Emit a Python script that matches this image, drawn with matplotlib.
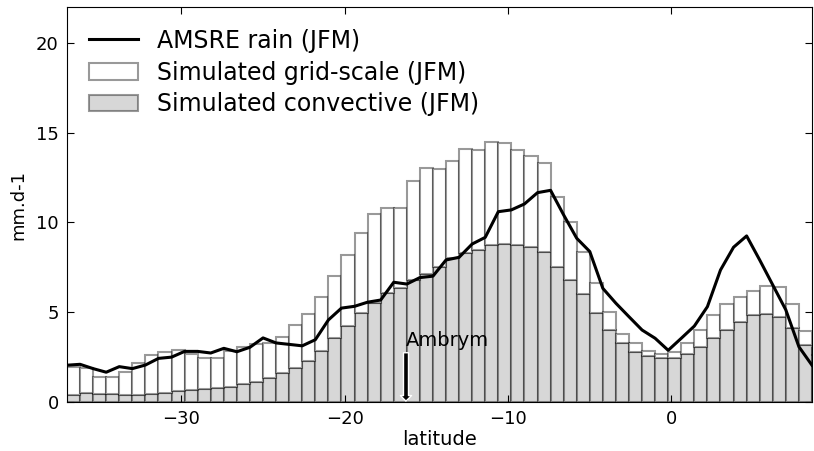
import matplotlib
matplotlib.use("Agg")
import matplotlib.pyplot as plt
import numpy as np

# latitude of each model band (left edge) and of the AMSRE samples
lat = np.round(-37.0 + 0.8 * np.arange(58), 2)

# simulated convective rain, mm/day
conv = [0.39, 0.52, 0.43, 0.43, 0.39, 0.39, 0.45, 0.52, 0.61, 0.67,
        0.72, 0.80, 0.85, 1.00, 1.13, 1.32, 1.60, 1.88, 2.28, 2.84,
        3.55, 4.23, 4.98, 5.50, 6.05, 6.33, 6.80, 7.13, 7.54, 8.00,
        8.28, 8.47, 8.75, 8.80, 8.75, 8.62, 8.34, 7.54, 6.80, 6.00,
        4.98, 4.01, 3.27, 2.80, 2.56, 2.43, 2.47, 2.66, 3.08, 3.58,
        4.01, 4.47, 4.85, 4.90, 4.72, 4.10, 3.18, 2.60]

# simulated total (convective + grid-scale) rain, mm/day
total = [1.97, 1.88, 1.37, 1.37, 1.65, 2.20, 2.60, 2.81, 2.88, 2.66,
         2.44, 2.44, 2.85, 3.08, 3.21, 3.30, 3.60, 4.29, 4.89, 5.83,
         7.04, 8.21, 9.39, 10.47, 10.81, 10.81, 12.31, 13.04, 12.96, 13.45,
         14.11, 14.04, 14.50, 14.45, 14.04, 13.70, 13.30, 11.44, 10.05, 8.38,
         6.65, 5.03, 3.77, 3.27, 2.86, 2.66, 2.79, 3.30, 4.01, 4.85,
         5.46, 5.87, 6.18, 6.46, 6.39, 5.44, 3.96, 3.00]
grid = np.array(total) - np.array(conv)

# AMSRE observed rain, mm/day
amsre = [2.05, 2.10, 1.86, 1.66, 1.97, 1.86, 2.06, 2.43, 2.50, 2.82,
         2.82, 2.73, 2.99, 2.80, 3.05, 3.57, 3.29, 3.21, 3.13, 3.47,
         4.57, 5.23, 5.33, 5.56, 5.68, 6.67, 6.57, 6.93, 7.01, 7.91,
         8.06, 8.80, 9.17, 10.60, 10.70, 11.03, 11.66, 11.79, 10.42, 9.12,
         8.38, 6.33, 5.50, 4.75, 4.01, 3.55, 2.88, 3.55, 4.23, 5.31,
         7.35, 8.62, 9.25, 7.91, 6.52, 5.13, 3.08, 2.05]

plt.rcParams['font.family'] = 'DejaVu Sans'

fig = plt.figure(figsize=(8.14, 4.51), dpi=100)
ax = fig.add_axes([0.0823, 0.1086, 0.9152, 0.8759])

edge = (0, 0, 0, 0.4)
b_conv = ax.bar(lat, conv, width=0.8, align='edge', color='#d7d7d7',
                edgecolor=edge, linewidth=1.5, label='Simulated convective (JFM)')
b_grid = ax.bar(lat, grid, width=0.8, align='edge', bottom=conv, color='white',
                edgecolor=edge, linewidth=1.5, label='Simulated grid-scale (JFM)')
l_obs, = ax.plot(lat, amsre, color='black', linewidth=2.2, label='AMSRE rain (JFM)')

ax.annotate('Ambrym', xy=(-16.25, 0.05), xytext=(-16.25, 2.9),
            fontsize=14, ha='left', va='bottom',
            arrowprops=dict(facecolor='black', edgecolor='white',
                            width=3.6, headwidth=8, headlength=4, shrink=0))

ax.set_xlim(-37.0, 8.6)
ax.set_ylim(0, 22)
ax.set_xticks([-30, -20, -10, 0])
ax.set_yticks([0, 5, 10, 15, 20])
ax.tick_params(direction='in', top=True, right=True, length=5,
               labelsize=13, pad=6)
ax.set_xlabel('latitude', fontsize=14, labelpad=1)
ax.set_ylabel('mm.d-1', fontsize=13, labelpad=6)

ax.legend([l_obs, b_grid, b_conv],
          ['AMSRE rain (JFM)', 'Simulated grid-scale (JFM)',
           'Simulated convective (JFM)'],
          loc='upper left', frameon=False, fontsize=17,
          handlelength=2.1, handletextpad=0.8, borderaxespad=0.5,
          borderpad=0.42, labelspacing=0.33)

fig.savefig('out.png', dpi=100)
